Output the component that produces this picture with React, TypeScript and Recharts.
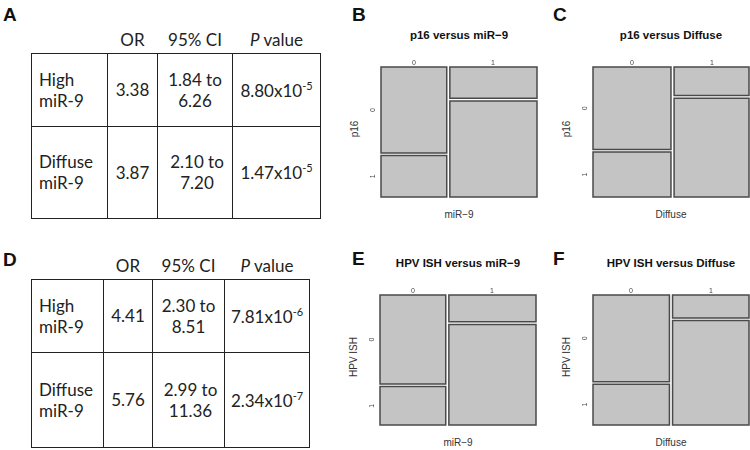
import { ComposedChart, ReferenceArea, Scatter, XAxis, YAxis } from "recharts";

// mosaic counts, counts[column][row]
const colLevels = ["0", "1"];
const rowLevels = ["0", "1"];
const p16VsMir9 = [[29, 14], [14, 43]];
const p16VsDiffuse = [[33, 18], [11, 38]];
const hpvVsMir9 = [[30, 13], [12, 45]];
const hpvVsDiffuse = [[34, 16], [9, 41]];

// table contents
const headers = ["OR", "95% CI", "value"];
const rowNames = [["High", "miR-9"], ["Diffuse", "miR-9"]];
const p16Or = ["3.38", "3.87"];
const p16Ci = [["1.84 to", "6.26"], ["2.10 to", "7.20"]];
const p16P = [["8.80x10", "-5"], ["1.47x10", "-5"]];
const hpvOr = ["4.41", "5.76"];
const hpvCi = [["2.30 to", "8.51"], ["2.99 to", "11.36"]];
const hpvP = [["7.81x10", "-6"], ["2.34x10", "-7"]];

const GAP = 0.02;
const PW = 156;
const PH = 130;
const ML = 20;
const MT = 8;
const FILL = "#c4c4c4";
const EDGE = "#4a4a4a";
const SANS = "'Liberation Sans', Arial, sans-serif";
const TABLE_FONT = "Lato, 'Open Sans', sans-serif";

const mosaicCells = (counts: number[][]) => {
  const total = counts.flat().reduce((a, b) => a + b, 0);
  const cells: { key: string; x1: number; x2: number; y1: number; y2: number; cx: number; cy: number }[] = [];
  let x = 0;
  counts.forEach((col, i) => {
    const colTotal = col.reduce((a, b) => a + b, 0);
    const w = (colTotal / total) * (1 - GAP * (counts.length - 1));
    let y = 0;
    col.forEach((n, j) => {
      const h = (n / colTotal) * (1 - GAP * (col.length - 1));
      cells.push({ key: `${i}-${j}`, x1: x, x2: x + w, y1: y, y2: y + h, cx: x + w / 2, cy: y + h / 2 });
      y += h + GAP;
    });
    x += w + GAP;
  });
  return cells;
};

const Mosaic = ({ counts, left, top, title, xLabel, yLabel }: any) => {
  const cells = mosaicCells(counts);
  const colTicks = cells.filter((c) => c.key.endsWith("-0")).map((c) => c.cx);
  const rowTicks = cells.filter((c) => c.key.startsWith("0-")).map((c) => c.cy);

  const colTick = (props: any) => (
    <text key={`c${props.index}`} x={Math.round(props.x)} y={MT - 2} textAnchor="middle"
      fontSize={7} style={{ fill: "#444", stroke: "none" }} fontFamily={SANS}>
      {colLevels[props.index]}
    </text>
  );
  const rowTick = (props: any) => {
    const bx = ML - 5.5;
    return (
      <text key={`r${props.index}`} x={bx} y={props.y} transform={`rotate(-90, ${bx}, ${props.y})`} textAnchor="middle"
        fontSize={7} style={{ fill: "#444", stroke: "none" }} fontFamily={SANS}>
        {rowLevels[props.index]}
      </text>
    );
  };

  return (
    <>
      <div style={{ position: "absolute", left: left, top: top - 38, width: PW, textAlign: "center",
        fontFamily: SANS, fontWeight: "bold", fontSize: 11.5, lineHeight: "12px", color: "#111", whiteSpace: "nowrap" }}>
        {title}
      </div>
      <div style={{ position: "absolute", left: left, top: top + PH + 13, width: PW, textAlign: "center",
        fontFamily: SANS, fontSize: 10, lineHeight: "10px", color: "#333" }}>
        {xLabel}
      </div>
      <div style={{ position: "absolute", left: left - 26 - 40, top: top + 57, width: 80, textAlign: "center",
        fontFamily: SANS, fontSize: 10, lineHeight: "10px", color: "#333", transform: "rotate(-90deg)" }}>
        {yLabel}
      </div>
      <div style={{ position: "absolute", left: left - ML, top: top - MT, willChange: "transform", opacity: 0.999 }}>
        <ComposedChart width={ML + PW + 4} height={MT + PH + 4} data={cells} accessibilityLayer={false}
          margin={{ top: 0, right: 4, bottom: 4, left: 8 }}>
          <XAxis xAxisId="x" dataKey="cx" type="number" orientation="top" domain={[0, 1]} allowDataOverflow
            ticks={colTicks} tick={colTick} height={MT} axisLine={false} tickLine={false} />
          <YAxis yAxisId="y" dataKey="cy" type="number" domain={[0, 1]} reversed allowDataOverflow
            ticks={rowTicks} tick={rowTick} width={ML - 8} axisLine={false} tickLine={false} />
          {cells.map((c) => (
            <ReferenceArea key={c.key} xAxisId="x" yAxisId="y" x1={c.x1} x2={c.x2} y1={c.y1} y2={c.y2}
              fill={FILL} fillOpacity={1} stroke={EDGE} strokeWidth={1.5} ifOverflow="visible" />
          ))}
          <Scatter xAxisId="x" yAxisId="y" dataKey="cy" fill="none" legendType="none"
            shape={() => <g />} isAnimationActive={false} />
        </ComposedChart>
      </div>
    </>
  );
};

const cellBorder = "1px solid #222";

const OddsTable = ({ left, top, colWidths, rowHeights, or, ci, p }: any) => (
  <table style={{ position: "absolute", left, top, borderCollapse: "collapse", tableLayout: "fixed",
    fontFamily: TABLE_FONT, fontSize: 17, color: "#222" }}>
    <colgroup>
      {colWidths.map((w: number, i: number) => <col key={i} style={{ width: w }} />)}
    </colgroup>
    <tbody>
      <tr style={{ height: 26 }}>
        <td style={{ padding: 0 }} />
        <td style={{ padding: 0, textAlign: "center" }}>{headers[0]}</td>
        <td style={{ padding: 0, textAlign: "center" }}>{headers[1]}</td>
        <td style={{ padding: 0, textAlign: "center", whiteSpace: "nowrap" }}><i>P</i> {headers[2]}</td>
      </tr>
      {rowNames.map((name: string[], r: number) => (
        <tr key={r} style={{ height: rowHeights[r] }}>
          <td style={{ border: cellBorder, padding: "0 0 0 7px", lineHeight: "21px" }}>
            {name[0]}<br />{name[1]}
          </td>
          <td style={{ border: cellBorder, padding: 0, textAlign: "center" }}>{or[r]}</td>
          <td style={{ border: cellBorder, padding: r === 1 ? "0 0 0 4px" : 0, textAlign: "center", lineHeight: "21px" }}>
            {ci[r][0]}<br />{ci[r][1]}
          </td>
          <td style={{ border: cellBorder, padding: 0, textAlign: "center", whiteSpace: "nowrap" }}>
            {p[r][0]}<sup style={{ fontSize: 11 }}>{p[r][1]}</sup>
          </td>
        </tr>
      ))}
    </tbody>
  </table>
);

const Letter = ({ x, y, children }: any) => (
  <div style={{ position: "absolute", left: x, top: y, fontFamily: SANS, fontWeight: "bold",
    fontSize: 19, lineHeight: "19px", color: "#111" }}>
    {children}
  </div>
);

export default function App() {
  return (
    <div style={{ position: "absolute", left: 0, top: 0, width: 750, height: 450, background: "#fff", overflow: "hidden" }}>
      <Letter x={3} y={4.5}>A</Letter>
      <Letter x={352} y={4.5}>B</Letter>
      <Letter x={553} y={4.5}>C</Letter>
      <Letter x={3} y={249.5}>D</Letter>
      <Letter x={352} y={248.5}>E</Letter>
      <Letter x={553} y={248.5}>F</Letter>

      <OddsTable left={31} top={27} colWidths={[76, 50, 75, 88]} rowHeights={[73, 92]} or={p16Or} ci={p16Ci} p={p16P} />
      <OddsTable left={31} top={253} colWidths={[72, 49, 72, 85]} rowHeights={[73, 95]} or={hpvOr} ci={hpvCi} p={hpvP} />

      <Mosaic counts={p16VsMir9} left={381} top={67} title="p16 versus miR−9" xLabel="miR−9" yLabel="p16" />
      <Mosaic counts={p16VsDiffuse} left={593} top={67} title="p16 versus Diffuse" xLabel="Diffuse" yLabel="p16" />
      <Mosaic counts={hpvVsMir9} left={380} top={295} title="HPV ISH versus miR−9" xLabel="miR−9" yLabel="HPV ISH" />
      <Mosaic counts={hpvVsDiffuse} left={593} top={295} title="HPV ISH versus Diffuse" xLabel="Diffuse" yLabel="HPV ISH" />
    </div>
  );
}
